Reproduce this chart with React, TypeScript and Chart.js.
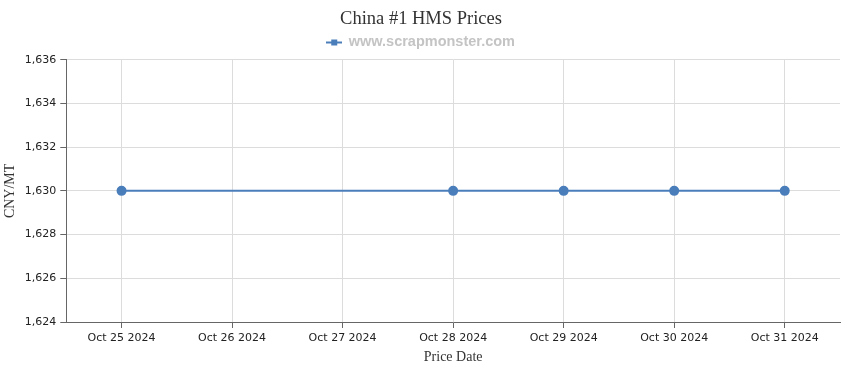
import React, { useEffect, useRef } from "react";
import { Chart, registerables } from "chart.js";

Chart.register(...registerables);

const categories = ["Oct 25 2024", "Oct 26 2024", "Oct 27 2024", "Oct 28 2024", "Oct 29 2024", "Oct 30 2024", "Oct 31 2024"];
const prices: (number | null)[] = [1630, null, null, 1630, 1630, 1630, 1630];
const seriesName = "www.scrapmonster.com";
const chartTitle = "China #1 HMS Prices";
const yTitle = "CNY/MT";
const xTitle = "Price Date";
const yMin = 1624;
const yMax = 1636;
const yStep = 2;

const lineColor = "#4a7ebb";

function makeLegendIcon(): HTMLCanvasElement {
  const c = document.createElement("canvas");
  c.width = 16;
  c.height = 8;
  const ctx = c.getContext("2d")!;
  ctx.strokeStyle = lineColor;
  ctx.lineWidth = 2;
  ctx.beginPath();
  ctx.moveTo(0, 4);
  ctx.lineTo(16, 4);
  ctx.stroke();
  ctx.fillStyle = lineColor;
  ctx.fillRect(5, 1, 6, 6);
  return c;
}

export default function App() {
  const ref = useRef<HTMLCanvasElement>(null);
  useEffect(() => {
    document.body.style.margin = "0";
    const icon = makeLegendIcon();
    const chart = new Chart(ref.current!, {
      type: "line",
      data: {
        labels: categories,
        datasets: [
          {
            label: seriesName,
            data: prices,
            borderColor: lineColor,
            backgroundColor: lineColor,
            borderWidth: 2,
            pointRadius: 4,
            pointHoverRadius: 4,
            spanGaps: true,
            tension: 0,
          },
        ],
      },
      options: {
        animation: false,
        responsive: false,
        layout: { padding: { left: 2, right: 10, top: 2, bottom: 4 } },
        plugins: {
          title: {
            display: true,
            text: chartTitle,
            color: "#333",
            font: { family: "'Liberation Serif', 'Times New Roman', serif", size: 18.5, weight: "normal" },
            padding: { top: 6, bottom: 0 },
          },
          legend: {
            display: true,
            labels: {
              color: "#c4c4c4",
              font: { family: "'Liberation Sans', Arial, sans-serif", size: 14.5, weight: "bold" },
              usePointStyle: true,
              padding: 5,
              generateLabels: (ch: any) => {
                const items = Chart.defaults.plugins.legend.labels.generateLabels(ch);
                return items.map((it: any) => ({ ...it, pointStyle: icon }));
              },
            },
          },
          tooltip: { enabled: false },
        },
        scales: {
          x: {
            offset: true,
            grid: { color: "#dcdcdc", tickColor: "#666", tickLength: 6, offset: false },
            border: { color: "#666", width: 1 },
            ticks: {
              color: "#222",
              font: { family: "'DejaVu Sans', Verdana, sans-serif", size: 11 },
              maxRotation: 0,
              autoSkip: false,
              padding: 4,
            },
            title: {
              display: true,
              text: xTitle,
              color: "#333",
              font: { family: "'Liberation Serif', 'Times New Roman', serif", size: 14 },
              padding: { top: 0, bottom: 0 },
            },
          },
          y: {
            min: yMin,
            max: yMax,
            grid: { color: "#dcdcdc", tickColor: "#666", tickLength: 6 },
            border: { color: "#666", width: 1 },
            ticks: {
              stepSize: yStep,
              color: "#222",
              font: { family: "'DejaVu Sans', Verdana, sans-serif", size: 11 },
              padding: 4,
              callback: (v: any) => Number(v).toLocaleString("en-US"),
            },
            title: {
              display: true,
              text: yTitle,
              color: "#333",
              font: { family: "'Liberation Serif', 'Times New Roman', serif", size: 14 },
              padding: { top: 0, bottom: 2 },
            },
          },
        },
      },
    });
    return () => chart.destroy();
  }, []);
  return (
    <div style={{ width: 850, height: 370 }}>
      <canvas ref={ref} width={850} height={370} style={{ display: "block" }} />
    </div>
  );
}
